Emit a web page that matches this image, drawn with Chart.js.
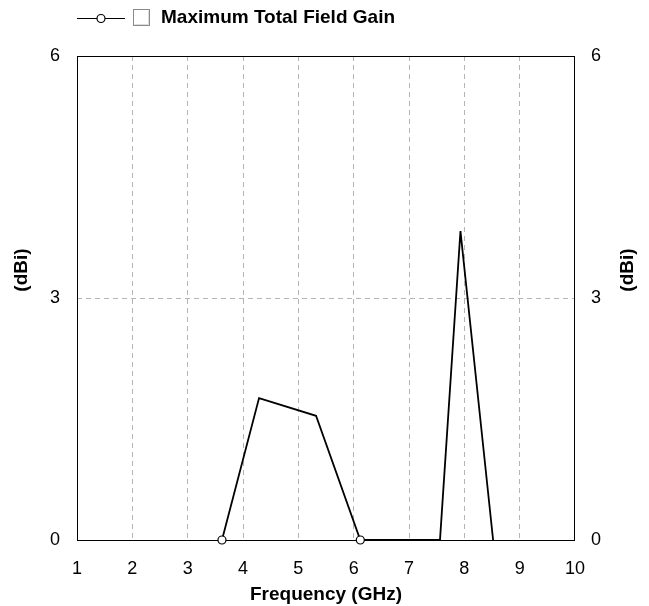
<!DOCTYPE html>
<html>
<head>
<meta charset="utf-8">
<script src="https://cdn.jsdelivr.net/npm/chart.js@4.4.1/dist/chart.umd.min.js"></script>
<style>
  html, body { margin: 0; padding: 0; background: #fff; }
  #wrap { width: 649px; height: 606px; }
</style>
</head>
<body>
<div id="wrap"><canvas id="myChart" width="649" height="606"></canvas></div>
<script>
// data
const seriesName = "Maximum Total Field Gain";
const freq = [3.62, 4.29, 5.32, 6.12, 7.56, 7.93, 8.52];
const gain = [0, 1.76, 1.54, 0, 0, 3.83, 0];
const markerIdx = [0, 3];
const xTicks = [1, 2, 3, 4, 5, 6, 7, 8, 9, 10];
const yTicks = [0, 3, 6];

const FONT = "'Liberation Sans', Arial, sans-serif";

const frame = {
  id: "frame",
  beforeDatasetsDraw(chart) {
    const a = chart.chartArea, ctx = chart.ctx;
    ctx.save();
    ctx.strokeStyle = "#000";
    ctx.lineWidth = 1;
    ctx.strokeRect(Math.round(a.left) + 0.5, Math.round(a.top) + 0.5,
      Math.round(a.right - a.left) - 1, Math.round(a.bottom - a.top));
    ctx.restore();
  },
  afterDraw(chart) {
    const ctx = chart.ctx;
    ctx.save();
    // legend
    ctx.strokeStyle = "#000";
    ctx.lineWidth = 1.2;
    ctx.beginPath();
    ctx.moveTo(77, 18.5);
    ctx.lineTo(125, 18.5);
    ctx.stroke();
    ctx.beginPath();
    ctx.arc(101, 18.5, 4, 0, Math.PI * 2);
    ctx.fillStyle = "#fff";
    ctx.fill();
    ctx.stroke();
    ctx.lineWidth = 1;
    ctx.strokeStyle = "#8a8a8a";
    ctx.strokeRect(133.5, 9.5, 16, 16);
    ctx.strokeStyle = "#dcdcdc";
    ctx.beginPath();
    ctx.moveTo(134.5, 24.5);
    ctx.lineTo(148.5, 24.5);
    ctx.lineTo(148.5, 10.5);
    ctx.stroke();
    ctx.fillStyle = "#000";
    ctx.font = "bold 19px " + FONT;
    ctx.textBaseline = "middle";
    ctx.fillText(seriesName, 161, 18);
    // y titles, both read bottom to top
    const yMid = 270;
    [22, 628].forEach((x) => {
      ctx.save();
      ctx.translate(x, yMid);
      ctx.rotate(-Math.PI / 2);
      ctx.textAlign = "center";
      ctx.textBaseline = "middle";
      ctx.fillText("(dBi)", 0, 0);
      ctx.restore();
    });
    ctx.restore();
  },
};

const data = {
  datasets: [
    {
      label: seriesName,
      data: freq.map((f, i) => ({ x: f, y: gain[i] })),
      borderColor: "#000",
      borderWidth: 1.8,
      backgroundColor: "#fff",
      pointBorderColor: "#000",
      pointBorderWidth: 1.2,
      pointRadius: (c) => (markerIdx.includes(c.dataIndex) ? 4 : 0),
      tension: 0,
      clip: false,
    },
  ],
};

const tickFont = { family: FONT, size: 18 };

const config = {
  type: "line",
  data: data,
  plugins: [frame],
  options: {
    responsive: false,
    animation: false,
    layout: { padding: { top: 56, left: 0, right: 0, bottom: 0 } },
    plugins: {
      legend: { display: false },
      tooltip: { enabled: false },
    },
    scales: {
      x: {
        type: "linear",
        min: 1,
        max: 10,
        afterBuildTicks: (s) => { s.ticks = xTicks.map((v) => ({ value: v })); },
        afterFit: (s) => { s.height = 66; },
        border: { display: false, dash: [5, 4] },
        grid: {
          color: (c) => (c.tick.value > 1 && c.tick.value < 10 ? "#b4b4b4" : "rgba(0,0,0,0)"),
          lineWidth: 1,
          drawTicks: false,
        },
        ticks: { color: "#000", font: tickFont, padding: 18, maxRotation: 0 },
        title: {
          display: true,
          text: "Frequency (GHz)",
          color: "#000",
          font: { family: FONT, size: 19, weight: "bold" },
          padding: { top: 0, bottom: 0 },
        },
      },
      y: {
        position: "left",
        min: 0,
        max: 6,
        afterBuildTicks: (s) => { s.ticks = yTicks.map((v) => ({ value: v })); },
        afterFit: (s) => { s.width = 77; },
        border: { display: false, dash: [5, 4] },
        grid: {
          color: (c) => (c.tick.value > 0 && c.tick.value < 6 ? "#b4b4b4" : "rgba(0,0,0,0)"),
          drawTicks: false,
        },
        ticks: { color: "#000", font: tickFont, padding: 17 },
      },
      y2: {
        position: "right",
        min: 0,
        max: 6,
        afterBuildTicks: (s) => { s.ticks = yTicks.map((v) => ({ value: v })); },
        afterFit: (s) => { s.width = 74; },
        border: { display: false },
        grid: { display: false, drawTicks: false },
        ticks: { color: "#000", font: tickFont, padding: 16 },
      },
    },
  },
};

const myChart = new Chart("myChart", config);
</script>
</body>
</html>
